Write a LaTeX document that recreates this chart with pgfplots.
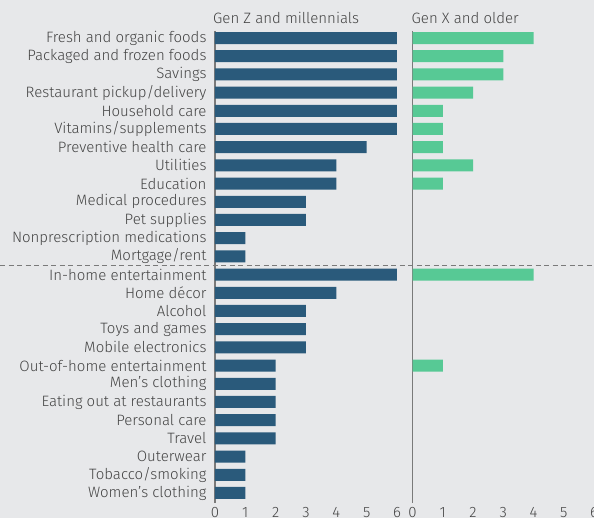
\documentclass[border=0pt]{standalone}
\usepackage{fontspec}
\setmainfont{Fira Sans}[UprightFont=* Light]
\usepackage{pgfplots}
\usepackage{pgfplotstable}
\pgfplotsset{compat=1.18}
\definecolor{bgcol}{HTML}{E7E8EA}
\definecolor{gridcol}{HTML}{D0D1D3}
\definecolor{axcol}{HTML}{7A7A7A}
\definecolor{bluebar}{HTML}{2A5A7B}
\definecolor{greenbar}{HTML}{57C995}
\definecolor{txt}{HTML}{444444}

\pgfplotstableread{
idx genz
0 6
1 6
2 6
3 6
4 6
5 6
6 5
7 4
8 4
9 3
10 3
11 1
12 1
13 6
14 4
15 3
16 3
17 3
18 2
19 2
20 2
21 2
22 2
23 1
24 1
25 1
}\genzdata

\pgfplotstableread{
idx genx
0 4
1 3
2 3
3 2
4 1
5 1
6 1
7 2
8 1
13 4
18 1
}\genxdata

\newcommand{\fnt}{\fontsize{15}{17}\selectfont}

\pgfplotsset{
  panel/.style={
    scale only axis,
    height=472pt,
    xmin=0, xmax=6,
    ymin=-0.385, ymax=25.55,
    y dir=reverse,
    xbar, bar width=12pt,
    axis x line=none,
    axis y line*=left,
    y axis line style={axcol, line width=1.2pt},
    xmajorgrids, grid style={gridcol, line width=0.9pt},
    xtick={0,...,6},
    major tick length=0pt,
    ytick={0,...,25},
    tick label style={font=\fnt, text=txt},
    /pgf/number format/assume math mode=true,
    clip=false,
  },
}

\begin{document}
\begin{tikzpicture}[x=1pt,y=1pt]
\path[use as bounding box, fill=bgcol] (0,0) rectangle (594,518);
\begin{axis}[panel,
  width=182pt,
  at={(215pt,487pt)}, anchor=north west,
  yticklabels={Fresh and organic foods, Packaged and frozen foods, Savings, Restaurant pickup/delivery, Household care, Vitamins/supplements, Preventive health care, Utilities, Education, Medical procedures, Pet supplies, Nonprescription medications, Mortgage/rent, In-home entertainment, Home décor, Alcohol, Toys and games, Mobile electronics, Out-of-home entertainment, Men’s clothing, Eating out at restaurants, Personal care, Travel, Outerwear, Tobacco/smoking, Women’s clothing},
  yticklabel style={xshift=-5pt},
]
\addplot[fill=bluebar, draw=none] table[x=genz, y=idx] {\genzdata};
\coordinate (sep) at (axis cs:0,12.5);
\node[anchor=south west, font=\fnt, text=txt, inner sep=0pt] at ([xshift=-2pt,yshift=7pt]rel axis cs:0,1) {Gen Z and millennials};
\foreach \v in {0,...,6}{
  \edef\temp{\noexpand\node[font=\noexpand\fnt, text=txt, anchor=north, inner sep=0pt] at ([yshift=-4pt]axis cs:\v,25.55) {\v};}
  \temp
}
\end{axis}
\begin{axis}[panel,
  width=181.5pt,
  at={(412.5pt,487pt)}, anchor=north west,
  yticklabels={},
]
\addplot[fill=greenbar, draw=none] table[x=genx, y=idx] {\genxdata};
\node[anchor=south west, font=\fnt, text=txt, inner sep=0pt] at ([xshift=-1pt,yshift=7pt]rel axis cs:0,1) {Gen X and older};
\foreach \v in {0,...,6}{
  \edef\temp{\noexpand\node[font=\noexpand\fnt, text=txt, anchor=north, inner sep=0pt] at ([yshift=-4pt]axis cs:\v,25.55) {\v};}
  \temp
}
\end{axis}
\draw[axcol, line width=0.9pt, dash pattern=on 5pt off 3.5pt] (0,0 |- sep) -- (594, 0 |- sep);
\end{tikzpicture}
\end{document}
